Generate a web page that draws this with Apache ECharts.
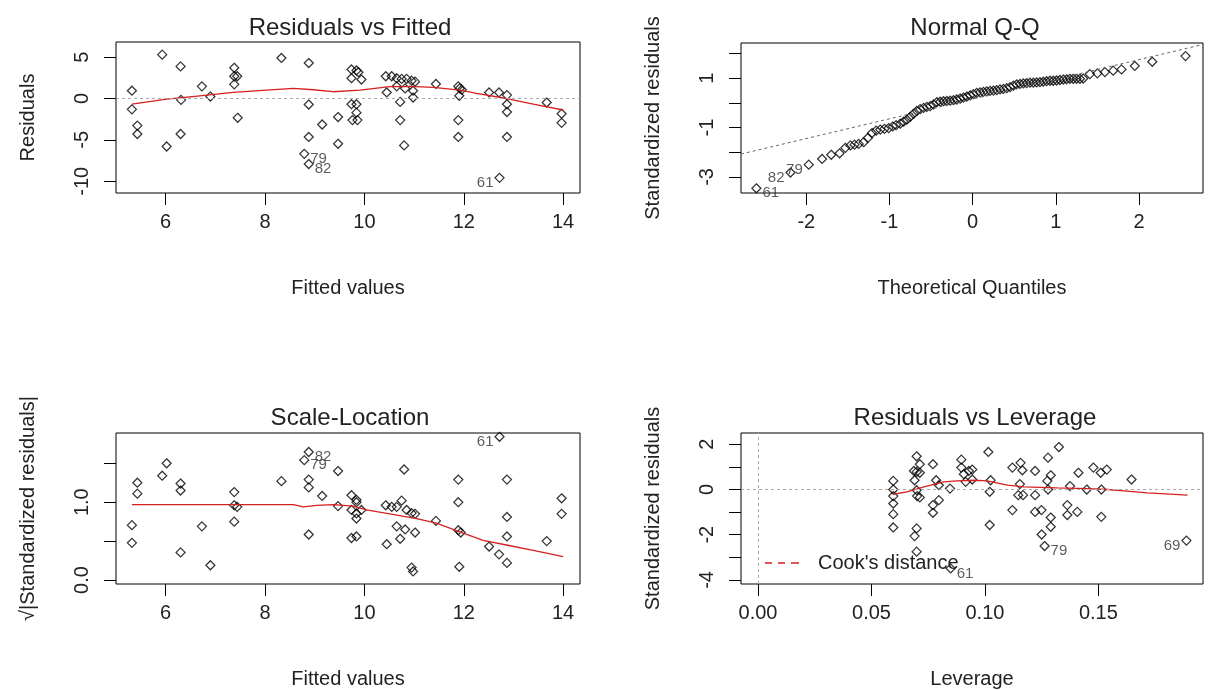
<!DOCTYPE html>
<html>
<head>
<meta charset="utf-8">
<script src="https://cdn.jsdelivr.net/npm/echarts@6.0.0/dist/echarts.min.js"></script>
<style>
  html, body { margin: 0; background: #fff; }
  #main { width: 1208px; height: 690px; }
</style>
</head>
<body>
<div id="main"></div>
<script>
// Residuals vs Fitted
const fitX = [5.32,5.32,5.43,5.43,5.93,6.02,6.30,6.31,6.30,6.73,6.90,7.38,7.38,7.44,7.38,7.45,8.33,8.88,8.88,8.88,8.79,8.88,9.15,9.47,9.47,9.74,9.74,9.84,9.88,9.94,9.74,9.84,9.84,9.76,9.86,10.43,10.55,10.65,10.75,10.85,10.95,11.02,10.45,10.65,10.82,10.98,10.98,10.72,10.72,10.80,11.44,11.89,11.92,11.96,11.91,11.89,11.89,12.51,12.71,12.87,12.87,12.87,12.87,12.72,13.67,13.97,13.97];
const residY = [0.94,-1.31,-3.27,-4.29,5.3,-5.8,3.88,-0.16,-4.29,1.47,0.24,3.71,2.69,2.69,1.71,-2.33,4.90,4.29,-0.73,-4.65,-6.69,-7.92,-3.14,-2.24,-5.47,3.51,2.45,3.39,3.18,2.29,-0.69,-0.69,-1.71,-2.61,-2.61,2.69,2.69,2.45,2.37,2.37,2.16,2.04,0.73,1.47,1.22,0.94,0.12,-0.41,-2.61,-5.67,1.76,1.47,1.22,1.06,0.33,-2.61,-4.65,0.73,0.73,0.41,-0.69,-1.63,-4.65,-9.59,-0.49,-1.84,-2.94];
const smoothFitX = [5.32,6.02,6.69,7.36,8.03,8.57,8.97,9.37,9.91,10.51,10.92,11.39,11.92,12.26,12.86,13.40,14.0];
const smoothResidY = [-0.69,-0.08,0.33,0.73,1.02,1.22,1.06,0.82,1.02,1.43,1.47,1.35,1.02,0.61,0,-0.69,-1.39];
const idFitX = [8.79,8.88,12.72];
const idResidY = [-6.69,-7.92,-9.59];
const idResid = ["79","82","61"];

// Normal Q-Q
const qqX = [-2.60,-2.19,-1.97,-1.81,-1.70,-1.60,-1.53,-1.47,-1.42,-1.37,-1.31,-1.26,-1.21,-1.16,-1.11,-1.06,-1.01,-0.96,-0.92,-0.87,-0.83,-0.79,-0.75,-0.71,-0.67,-0.63,-0.59,-0.55,-0.51,-0.47,-0.43,-0.39,-0.35,-0.31,-0.27,-0.23,-0.19,-0.15,-0.11,-0.07,-0.03,0.01,0.05,0.09,0.13,0.17,0.21,0.25,0.29,0.33,0.37,0.41,0.45,0.49,0.53,0.57,0.61,0.65,0.69,0.73,0.77,0.81,0.85,0.89,0.93,0.97,1.01,1.05,1.09,1.13,1.17,1.21,1.25,1.29,1.33,1.41,1.50,1.59,1.69,1.79,1.95,2.16,2.56];
const qqY = [-3.46,-2.82,-2.50,-2.27,-2.10,-2.04,-1.82,-1.72,-1.69,-1.66,-1.59,-1.42,-1.22,-1.12,-1.08,-1.05,-1.02,-0.95,-0.90,-0.84,-0.76,-0.68,-0.56,-0.44,-0.32,-0.25,-0.20,-0.16,-0.13,-0.06,0.03,0.05,0.07,0.08,0.09,0.11,0.14,0.18,0.22,0.26,0.31,0.36,0.41,0.43,0.45,0.47,0.49,0.50,0.52,0.55,0.57,0.60,0.64,0.70,0.75,0.77,0.79,0.80,0.82,0.82,0.83,0.84,0.86,0.88,0.90,0.90,0.91,0.93,0.95,0.96,0.98,0.98,0.98,0.98,0.99,1.17,1.20,1.25,1.31,1.36,1.50,1.67,1.90];
const qqLineX = [-2.785,2.77];
const qqLineY = [-2.07,2.37];
const idQqX = [-2.60,-2.19,-1.97];
const idQqY = [-3.46,-2.82,-2.50];
const idQq = ["61","82","79"];

// Scale-Location
const slX = [5.32,5.32,5.43,5.43,5.93,6.02,6.30,6.30,6.30,6.73,6.90,7.38,7.38,7.44,7.38,8.33,8.88,8.79,8.88,8.88,8.88,9.15,9.47,9.47,9.74,9.84,9.84,9.74,9.94,9.84,9.84,9.74,9.84,10.43,10.55,10.65,10.75,10.85,10.95,11.02,10.65,10.82,11.02,10.72,10.45,10.80,10.95,10.98,11.44,11.89,11.89,11.89,11.94,11.91,12.51,12.71,12.87,12.87,12.87,12.87,12.72,13.67,13.97,13.97];
const slY = [0.705,0.478,1.25,1.11,1.34,1.50,1.24,1.15,0.355,0.69,0.19,1.13,0.96,0.94,0.75,1.27,1.645,1.54,1.29,1.19,0.585,1.08,1.40,0.95,1.09,1.03,1.00,0.90,0.90,0.855,0.79,0.54,0.56,0.96,0.94,0.94,1.02,0.90,0.86,0.85,0.69,0.65,0.61,0.53,0.46,1.42,0.16,0.11,0.76,1.29,1.00,0.64,0.61,0.17,0.43,0.33,0.22,0.56,0.81,1.29,1.84,0.50,1.05,0.85];
const smoothSlX = [5.32,7.36,8.57,8.77,9.04,9.37,9.78,10.04,10.51,11.05,11.45,11.92,12.39,12.86,13.40,14.0];
const smoothSlY = [0.97,0.97,0.97,0.94,0.96,0.97,0.95,0.90,0.85,0.79,0.73,0.62,0.51,0.45,0.38,0.30];
const idSlX = [8.88,8.79,12.72];
const idSlY = [1.645,1.54,1.84];
const idSl = ["82","79","61"];

// Residuals vs Leverage
const levX = [0.0596,0.0596,0.0596,0.0596,0.0596,0.0596,0.0699,0.0713,0.0687,0.0699,0.0713,0.0690,0.0699,0.0701,0.0713,0.0699,0.0690,0.0699,0.0771,0.0785,0.0797,0.0771,0.0771,0.0797,0.0846,0.0849,0.0896,0.0896,0.0907,0.0915,0.0929,0.0944,0.0944,0.1015,0.1025,0.1021,0.1021,0.1121,0.1121,0.1157,0.1165,0.1154,0.1147,0.1168,0.1221,0.1221,0.1221,0.1249,0.1250,0.1263,0.1278,0.1290,0.1275,0.1278,0.1290,0.1290,0.1326,0.1363,0.1363,0.1375,0.1407,0.1412,0.1449,0.1478,0.1510,0.1513,0.1537,0.1513,0.1646,0.1888];
const levY = [0.38,0,-0.29,-0.62,-1.09,-1.68,1.47,1.12,0.82,0.78,0.74,0.41,-0.03,-0.29,-0.35,-1.72,-2.06,-2.75,1.12,0.41,0.19,-0.69,-1.03,-0.47,0.04,-3.49,1.32,0.97,0.68,0.34,0.82,0.88,0.44,1.66,0.41,-0.10,-1.57,0.97,-0.91,1.18,0.85,0.24,-0.25,-0.25,0.82,-0.25,-0.99,-0.91,-1.99,-2.50,1.41,0.63,0.38,0,-1.24,-1.65,1.88,-0.69,-1.13,0.15,-0.99,0.74,0,0.97,0.74,0,0.88,-1.21,0.44,-2.26];
const smoothLevX = [0.0596,0.0657,0.0731,0.0819,0.0878,0.0951,0.101,0.1099,0.1172,0.1319,0.1451,0.154,0.1613,0.1716,0.1893];
const smoothLevY = [-0.21,-0.10,0.12,0.34,0.38,0.41,0.38,0.19,0.12,0.07,0.04,0,-0.06,-0.15,-0.25];
const idLevX = [0.0849,0.1263,0.1888];
const idLevY = [-3.49,-2.50,-2.26];
const idLev = ["61","79","69"];

// ticks
const fitTicks = [6,8,10,12,14];
const residTicks = [-10,-5,0,5];
const qqXTicks = [-2,-1,0,1,2];
const qqYTicks = [-3,-2,-1,0,1,2];
const qqYLabels = [-3,-1,1];
const slTicks = [0,0.5,1,1.5];
const slLabels = [0,1];
const levXTicks = [0,0.05,0.1,0.15];
const levYTicks = [-4,-3,-2,-1,0,1,2];
const levYLabels = [-4,-2,0,2];

const ink = "#222";
const font = "'Liberation Sans', Arial, sans-serif";
const red = "#d42020";

const zip = (xs, ys) => xs.map((x, i) => [x, ys[i]]);

function xAx(gi, min, max, ticks, name, digits) {
  return {
    gridIndex: gi, type: "value", min: min, max: max,
    name: name, nameLocation: "middle", nameGap: 85,
    nameTextStyle: { fontSize: 20, color: ink, fontFamily: font },
    axisLine: { show: false, onZero: false },
    axisTick: { show: true, length: 12, customValues: ticks, lineStyle: { color: "#000" } },
    axisLabel: { customValues: ticks, margin: 19, fontSize: 20, color: ink, fontFamily: font,
      formatter: (v) => v.toFixed(digits) },
    splitLine: { show: false },
  };
}

function yAx(gi, min, max, ticks, labels, name, digits) {
  return {
    gridIndex: gi, type: "value", min: min, max: max,
    name: name, nameLocation: "middle", nameGap: 78, nameRotate: 90,
    nameTextStyle: { fontSize: 20, color: ink, fontFamily: font },
    axisLine: { show: false, onZero: false },
    axisTick: { show: true, length: 12, customValues: ticks, lineStyle: { color: "#000" } },
    axisLabel: { customValues: labels, rotate: 90, margin: 24, fontSize: 20, color: ink, fontFamily: font,
      formatter: (v) => v.toFixed(digits) },
    splitLine: { show: false },
  };
}

function points(gi, xs, ys) {
  return {
    type: "scatter", xAxisIndex: gi, yAxisIndex: gi, data: zip(xs, ys),
    symbol: "diamond", symbolSize: 9, silent: true,
    itemStyle: { color: "rgba(0,0,0,0)", borderColor: "#000", borderWidth: 1.25 },
  };
}

function smooth(gi, xs, ys) {
  return {
    type: "line", xAxisIndex: gi, yAxisIndex: gi, data: zip(xs, ys),
    showSymbol: false, silent: true, z: 3,
    lineStyle: { color: red, width: 1.3 },
  };
}

// R puts each id label right of its point, or left when it sits past the middle of the labelled points
function ids(gi, xs, ys, names) {
  const mid = (Math.min(...xs) + Math.max(...xs)) / 2;
  return {
    type: "scatter", xAxisIndex: gi, yAxisIndex: gi, symbolSize: 0, silent: true,
    data: xs.map((x, i) => ({
      value: [x, ys[i]],
      label: { position: x > mid ? "left" : "right", formatter: names[i] },
    })),
    label: { show: true, fontSize: 15, color: "#333", fontFamily: font, offset: [0, 5], distance: 6 },
  };
}

const dotted = { color: "#aaa", type: [3, 3], width: 1 };
const grids = [
  { left: 116, top: 42, width: 464, height: 151 },
  { left: 741, top: 43, width: 462, height: 150 },
  { left: 116, top: 433, width: 464, height: 151 },
  { left: 741, top: 433, width: 462, height: 151 },
].map((g) => Object.assign(g, { show: true, borderColor: "#000", borderWidth: 1, backgroundColor: "transparent" }));

const titleText = ["Residuals vs Fitted", "Normal Q-Q", "Scale-Location", "Residuals vs Leverage"];
const titles = titleText.map((t, i) => ({
  text: t, left: i % 2 ? 970 : 345, top: i < 2 ? 11 : 401, textAlign: "center",
  textStyle: { fontSize: 24, fontWeight: "normal", color: ink, fontFamily: font },
}));

const option = {
  animation: false,
  backgroundColor: "#fff",
  title: titles,
  grid: grids,
  legend: {
    data: ["Cook's distance"], left: 760, top: 548, itemWidth: 34, itemHeight: 1.4,
    icon: "path://M0,0h7v1.4h-7z M13,0h7v1.4h-7z M26,0h8v1.4h-8z",
    symbolKeepAspect: false,
    itemStyle: { color: red },
    textStyle: { fontSize: 20, color: ink, fontFamily: font, padding: [0, 0, 0, 14] },
  },
  xAxis: [
    xAx(0, 5.0, 14.34, fitTicks, "Fitted values", 0),
    xAx(1, -2.785, 2.77, qqXTicks, "Theoretical Quantiles", 0),
    xAx(2, 5.0, 14.34, fitTicks, "Fitted values", 0),
    xAx(3, -0.0075, 0.1961, levXTicks, "Leverage", 2),
  ],
  yAxis: [
    yAx(0, -11.42, 6.83, residTicks, residTicks, "Residuals", 0),
    yAx(1, -3.65, 2.43, qqYTicks, qqYLabels, "Standardized residuals", 0),
    yAx(2, -0.051, 1.889, slTicks, slLabels, "\u221A|Standardized residuals|", 1),
    yAx(3, -4.18, 2.50, levYTicks, levYLabels, "Standardized residuals", 0),
  ],
  series: [
    Object.assign(points(0, fitX, residY), {
      markLine: { silent: true, symbol: "none", label: { show: false }, lineStyle: dotted, data: [{ yAxis: 0 }] },
    }),
    smooth(0, smoothFitX, smoothResidY),
    ids(0, idFitX, idResidY, idResid),

    points(1, qqX, qqY),
    {
      type: "line", xAxisIndex: 1, yAxisIndex: 1, data: zip(qqLineX, qqLineY),
      showSymbol: false, silent: true, lineStyle: { color: "#666", type: [3, 3], width: 1 },
    },
    ids(1, idQqX, idQqY, idQq),

    points(2, slX, slY),
    smooth(2, smoothSlX, smoothSlY),
    ids(2, idSlX, idSlY, idSl),

    Object.assign(points(3, levX, levY), {
      markLine: { silent: true, symbol: "none", label: { show: false }, lineStyle: dotted,
        data: [{ yAxis: 0 }, { xAxis: 0 }] },
    }),
    smooth(3, smoothLevX, smoothLevY),
    ids(3, idLevX, idLevY, idLev),
    {
      name: "Cook's distance", type: "line", xAxisIndex: 3, yAxisIndex: 3, data: [],
      symbol: "none", itemStyle: { color: red },
      lineStyle: { color: red, type: [7, 5], width: 1.3 },
    },
  ],
};

const chart = echarts.init(document.getElementById("main"));
chart.setOption(option);
</script>
</body>
</html>
